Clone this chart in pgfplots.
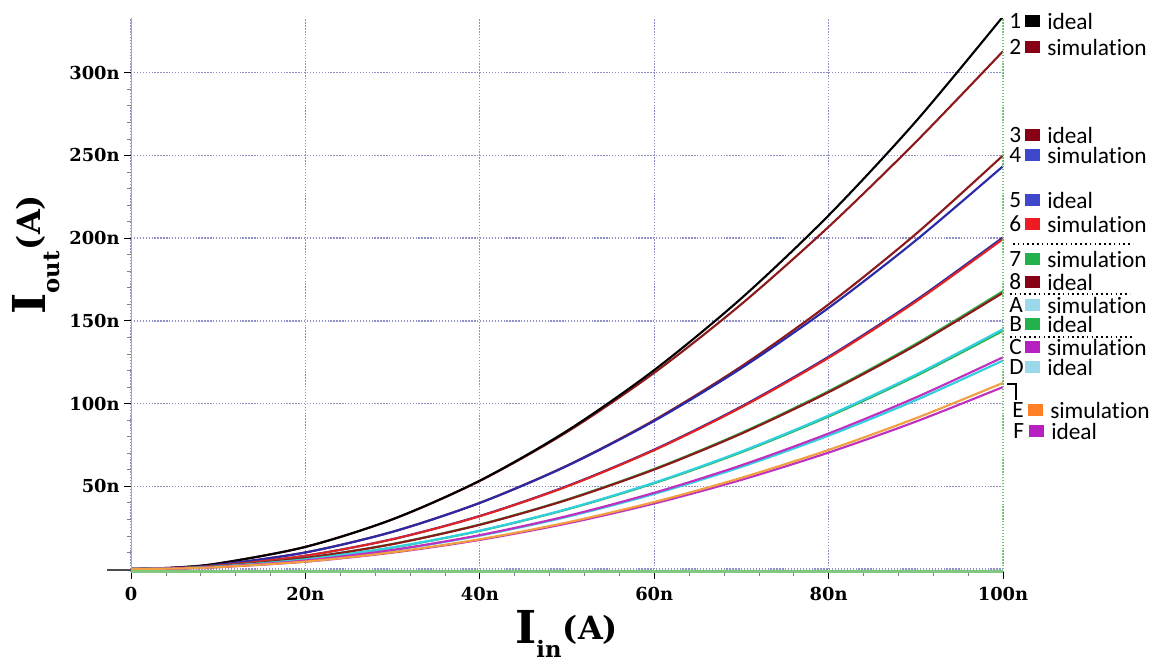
\documentclass[border=0pt]{standalone}
\usepackage{pgfplots}
\pgfplotsset{compat=1.18}
\usepackage{pgfplotstable}
\usepackage{fontspec}
\setmainfont{DejaVu Serif}
\newfontfamily\calfont{Carlito}[Ligatures=NoCommon]

\definecolor{cdred}{HTML}{8C1A1A}
\definecolor{cblue}{HTML}{2A2AA8}
\definecolor{cred}{HTML}{E02424}
\definecolor{cgreen}{HTML}{30B050}
\definecolor{ccyan}{HTML}{30D0E0}
\definecolor{cmag}{HTML}{C030C0}
\definecolor{corange}{HTML}{F0A040}
\definecolor{axgreen}{HTML}{80C880}
\definecolor{gridc}{HTML}{9090C8}
\definecolor{lred}{HTML}{880015}
\definecolor{lblue}{HTML}{3F48CC}
\definecolor{lred2}{HTML}{ED1C24}
\definecolor{lgreen}{HTML}{22B14C}
\definecolor{lcyan}{HTML}{99D9EA}
\definecolor{lmag}{HTML}{B620C0}
\definecolor{lorange}{HTML}{FF7F27}

\pgfplotstableread{
x c1 c2 c3 c4 c5 c6 c7 c8 cA cB cC cD cE cF
0 0 0 0 0 0 0 0 0 0 0 0 0 0 0
5 0.84 0.84 0.63 0.63 0.50 0.50 0.42 0.42 0.36 0.36 0.32 0.32 0.28 0.28
10 3.34 3.34 2.50 2.50 2.01 2.00 1.68 1.67 1.45 1.44 1.28 1.26 1.13 1.10
20 13.36 13.35 10.00 10.00 8.02 7.98 6.72 6.68 5.80 5.76 5.12 5.04 4.50 4.40
30 30.06 30.01 22.50 22.49 18.05 17.96 15.12 15.03 13.05 12.96 11.52 11.34 10.13 9.90
40 53.44 53.23 40.00 39.93 32.08 31.92 26.88 26.72 23.20 23.04 20.48 20.16 18.00 17.60
50 83.50 82.84 62.50 62.30 50.13 49.88 42.00 41.75 36.25 36.00 32.00 31.50 28.13 27.50
60 120.24 118.60 90.00 89.50 72.18 71.82 60.48 60.12 52.20 51.84 46.08 45.36 40.50 39.60
70 163.66 160.13 122.50 121.41 98.25 97.76 82.32 81.83 71.05 70.56 62.72 61.74 55.13 53.90
80 213.76 206.86 160.00 157.87 128.32 127.68 107.52 106.88 92.80 92.16 81.92 80.64 72.00 70.40
90 270.54 258.12 202.50 198.65 162.41 161.60 136.08 135.27 117.45 116.64 103.68 102.06 91.13 89.10
100 334.00 313.00 250.00 243.50 200.50 199.50 168.00 167.00 145.00 144.00 128.00 126.00 112.50 110.00
}\data

\newcommand{\axlab}[1]{{\fontsize{34}{34}\selectfont\bfseries I}\raisebox{-10.5pt}{\fontsize{17}{17}\selectfont\bfseries #1}\hspace{1pt}\raisebox{3pt}{\fontsize{24}{24}\selectfont\bfseries (A)}}
\newcommand{\lf}{\calfont\fontsize{17.5}{18}\selectfont}
\newcommand{\legrow}[5]{%
  \node[anchor=west, inner sep=0] at ({1009+#5},#1) {\lf #2};
  \fill[#3] ({1025+#5},{#1-6}) rectangle ({1040+#5},{#1+6});
  \node[anchor=west, inner sep=0] at ({1047+#5},#1) {\lf #4};}

\begin{document}
\begin{tikzpicture}
\begin{scope}[x=0.75pt, y=0.75pt]
\path[use as bounding box] (0,0) rectangle (1156,657);
\end{scope}
\begin{axis}[
  at={(98.25pt,63.525pt)}, anchor=south west,
  scale only axis, width=654pt, height=415.6pt,
  xmin=0, xmax=100, ymin=-2, ymax=333,
  axis x line*=bottom, axis y line*=left,
  axis line style={draw=none},
  xtick={0,20,...,100}, xticklabels={0,20n,40n,60n,80n,100n},
  ytick={0,50,...,300}, yticklabels={,50n,100n,150n,200n,250n,300n},
  minor x tick num=4, minor y tick num=4,
  tick align=outside, major tick length=5pt, minor tick length=3pt,
  major tick style={black, line width=0.7pt},
  minor tick style={gray, line width=0.5pt},
  grid=major, major grid style={gridc, line width=1pt, dash pattern=on 1pt off 1.2pt},
  ticklabel style={font=\bfseries\fontsize{13.4}{14}\selectfont},
  xticklabel style={yshift=-3pt},
  every axis plot/.append style={no markers, line width=1.6pt, smooth, tension=0.5},
]
\addplot[cdred] table[x=x,y=c2]{\data};
\addplot[black] table[x=x,y=c1]{\data};
\addplot[cdred] table[x=x,y=c3]{\data};
\addplot[cblue] table[x=x,y=c4]{\data};
\addplot[cblue] table[x=x,y=c5]{\data};
\addplot[cred] table[x=x,y=c6]{\data};
\addplot[cgreen] table[x=x,y=c7]{\data};
\addplot[cdred] table[x=x,y=c8]{\data};
\addplot[cgreen] table[x=x,y=cB]{\data};
\addplot[ccyan] table[x=x,y=cA]{\data};
\addplot[ccyan] table[x=x,y=cD]{\data};
\addplot[cmag] table[x=x,y=cC]{\data};
\addplot[cmag] table[x=x,y=cF]{\data};
\addplot[corange] table[x=x,y=cE]{\data};
\draw[axgreen, line width=2pt] (rel axis cs:0,0) -- (rel axis cs:0,1);
\draw[axgreen, line width=2.8pt] (rel axis cs:0,0) -- (rel axis cs:1,0);
\draw[axgreen, line width=1.3pt, dash pattern=on 1pt off 1.2pt] (rel axis cs:1,0) -- (rel axis cs:1,1);
\end{axis}
\begin{scope}[x=0.75pt, y=0.75pt]
\draw[gray!60!black, line width=0.8pt] (107,87) -- (131,87);

\node[anchor=base west, inner sep=0] at (515,14) {\axlab{in}};
\node[anchor=base west, inner sep=0, rotate=90] at (45,342) {\axlab{out}};

\legrow{636}{1}{black}{ideal}{0}
\legrow{610}{2}{lred}{simulation}{0}
\legrow{522}{3}{lred}{ideal}{0}
\legrow{502}{4}{lblue}{simulation}{0}
\legrow{457}{5}{lblue}{ideal}{0}
\legrow{433}{6}{lred2}{simulation}{0}
\legrow{398}{7}{lgreen}{simulation}{0}
\legrow{375}{8}{lred}{ideal}{0}
\legrow{352}{A}{lcyan}{simulation}{0}
\legrow{333}{B}{lgreen}{ideal}{0}
\legrow{310}{C}{lmag}{simulation}{0}
\legrow{290}{D}{lcyan}{ideal}{0}
\legrow{247}{E}{lorange}{simulation}{3}
\legrow{226}{F}{lmag}{ideal}{4}
\draw[black, line width=1.2pt, dash pattern=on 1.2pt off 2.4pt] (1013,413) -- (1133,413);
\draw[black, line width=1.2pt, dash pattern=on 1.2pt off 2.4pt] (1010,363) -- (1130,363);
\draw[black, line width=1.2pt, dash pattern=on 1.2pt off 2.4pt] (1010,320) -- (1133,320);
\draw[black, line width=1.3pt] (1007,273) -- (1016,273) -- (1016,257);
\end{scope}
\end{tikzpicture}
\end{document}
